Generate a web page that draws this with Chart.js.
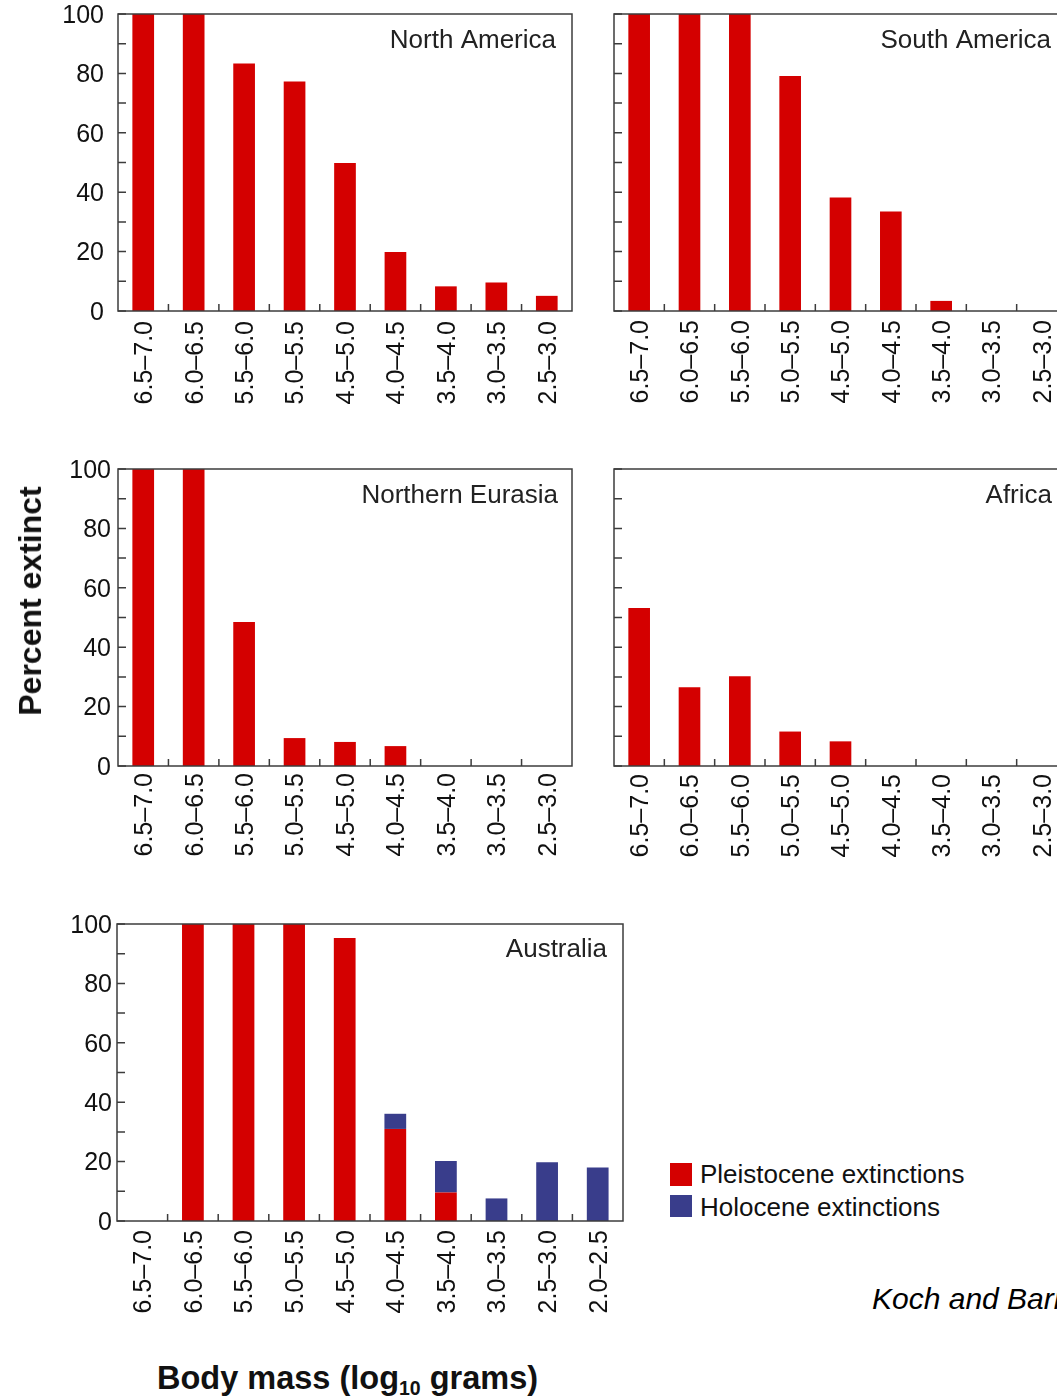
<!DOCTYPE html>
<html><head><meta charset="utf-8">
<script src="https://cdn.jsdelivr.net/npm/chart.js@4.4.0/dist/chart.umd.min.js"></script>
<style>
html,body{margin:0;padding:0;width:1057px;height:1398px;overflow:hidden;background:#fff;font-family:"Liberation Sans",Arial,Helvetica,sans-serif;}
canvas{position:absolute;}
.txt{position:absolute;white-space:nowrap;line-height:1;color:#111;}
#ylab{left:30px;top:601px;transform:translate(-50%,-50%) rotate(-90deg);font-weight:bold;font-size:32px;}
#xlab{left:157px;top:1362px;font-weight:bold;font-size:32.5px;}
#xlab span{font-size:0.6em;position:relative;top:0.32em;}
.sw{position:absolute;width:22px;height:23px;}
.lg{font-size:26px;}
#cite{left:872px;top:1284px;font-size:30px;font-style:italic;color:#000;}
</style>
</head><body>
<canvas id="cNA" width="600" height="435" style="left:0;top:-15px"></canvas>
<canvas id="cSA" width="500" height="420" style="left:600px;top:0"></canvas>
<canvas id="cNE" width="600" height="440" style="left:0;top:440px"></canvas>
<canvas id="cAF" width="500" height="440" style="left:600px;top:440px"></canvas>
<canvas id="cAU" width="640" height="440" style="left:0;top:895px"></canvas>
<div class="txt" id="ylab">Percent extinct</div>
<div class="txt" id="xlab">Body mass (log<span>10</span> grams)</div>
<div class="sw" id="swP" style="left:670px;top:1163px"></div>
<div class="sw" id="swH" style="left:670px;top:1195px;height:22px"></div>
<div class="txt lg" id="lgP" style="left:700px;top:1161px"></div>
<div class="txt lg" id="lgH" style="left:700px;top:1194px"></div>
<div class="txt" id="cite">Koch and Barnosky (2006)</div>
<script>
// ---- data ----
const massBins = ['6.5–7.0','6.0–6.5','5.5–6.0','5.0–5.5','4.5–5.0','4.0–4.5','3.5–4.0','3.0–3.5','2.5–3.0'];
const massBinsAustralia = ['6.5–7.0','6.0–6.5','5.5–6.0','5.0–5.5','4.5–5.0','4.0–4.5','3.5–4.0','3.0–3.5','2.5–3.0','2.0–2.5'];
const northAmerica    = [100, 100, 83.3, 77.3, 49.8, 19.9, 8.3, 9.6, 5.1];
const southAmerica    = [100, 100, 100, 79.1, 38.2, 33.5, 3.4, 0, 0];
const northernEurasia = [100, 100, 48.5, 9.4, 8.1, 6.7, 0, 0, 0];
const africa          = [53.2, 26.5, 30.2, 11.6, 8.3, 0, 0, 0, 0];
const australiaPleistocene = [0, 100, 100, 100, 95.3, 31.0, 9.6, 0, 0, 0];
const australiaHolocene    = [0, 0, 0, 0, 0, 5.1, 10.6, 7.6, 19.8, 18.0];
const yTickValues = [0, 10, 20, 30, 40, 50, 60, 70, 80, 90, 100];
const seriesNames = ['Pleistocene extinctions', 'Holocene extinctions'];
const panelNames = ['North America', 'South America', 'Northern Eurasia', 'Africa', 'Australia'];

// ---- styles ----
const RED = '#d40000';
const BLUE = '#393d8b';
const AXIS = '#3c3c3c';
const FAMILY = '"Liberation Sans", Arial, Helvetica, sans-serif';

document.getElementById('swP').style.background = RED;
document.getElementById('swH').style.background = BLUE;
document.getElementById('lgP').textContent = seriesNames[0];
document.getElementById('lgH').textContent = seriesNames[1];

const frameTicks = {
  id: 'frameTicks',
  afterDatasetsDraw(chart, args, opts) {
    const {ctx, chartArea: a, scales: {x, y}} = chart;
    ctx.save();
    ctx.strokeStyle = AXIS;
    ctx.lineWidth = 1.5;
    ctx.beginPath();
    yTickValues.forEach(v => {
      const py = y.getPixelForValue(v);
      ctx.moveTo(a.left, py); ctx.lineTo(a.left + 8, py);
    });
    const n = chart.data.labels.length;
    for (let i = 1; i < n; i++) {
      const px = (x.getPixelForValue(i - 1) + x.getPixelForValue(i)) / 2;
      ctx.moveTo(px, a.bottom); ctx.lineTo(px, a.bottom - 7);
    }
    ctx.stroke();
    ctx.strokeRect(a.left, a.top, a.right - a.left, a.bottom - a.top);
    if (opts.title) {
      ctx.fillStyle = '#222';
      ctx.font = '26px ' + FAMILY;
      ctx.textAlign = 'right';
      ctx.textBaseline = 'alphabetic';
      ctx.fillText(opts.title, a.right - opts.titleRight, a.top + opts.titleBase);
    }
    ctx.restore();
  }
};

function ds(label, data, color) {
  return { label, data, backgroundColor: color, borderWidth: 0, barPercentage: 0.43, categoryPercentage: 1 };
}

function makeChart(id, labels, datasets, o) {
  return new Chart(document.getElementById(id), {
    type: 'bar',
    data: { labels, datasets },
    options: {
      responsive: false, animation: false, devicePixelRatio: 1,
      layout: { padding: { top: o.padTop, right: o.padRight, left: 0, bottom: 0 } },
      plugins: {
        legend: { display: false }, tooltip: { enabled: false },
        frameTicks: { title: o.title, titleRight: o.titleRight, titleBase: o.titleBase }
      },
      scales: {
        x: {
          stacked: true,
          grid: { display: false, drawTicks: false }, border: { display: false },
          ticks: { autoSkip: false, minRotation: 90, maxRotation: 90, padding: o.xPad, labelOffset: 2, color: '#111', font: { size: 25, family: FAMILY } },
          afterFit: s => { s.height = o.axisH; }
        },
        y: {
          stacked: true, min: 0, max: 100,
          grid: { display: false, drawTicks: false }, border: { display: false },
          ticks: { stepSize: 20, display: o.showY, padding: o.yPad, labelOffset: 2, color: '#111', font: { size: 25, family: FAMILY } },
          afterFit: s => { s.width = o.axisW; }
        }
      }
    },
    plugins: [frameTicks]
  });
}

makeChart('cNA', massBins, [ds(seriesNames[0], northAmerica, RED)],
  { padTop: 29, padRight: 28, axisW: 118, axisH: 109, xPad: 10, yPad: 14, showY: true, title: panelNames[0], titleRight: 16, titleBase: 34 });
makeChart('cSA', massBins, [ds(seriesNames[0], southAmerica, RED)],
  { padTop: 14, padRight: 33, axisW: 14, axisH: 109, xPad: 9, yPad: 8, showY: false, title: panelNames[1], titleRight: 16, titleBase: 34 });
makeChart('cNE', massBins, [ds(seriesNames[0], northernEurasia, RED)],
  { padTop: 29, padRight: 28, axisW: 118, axisH: 114, xPad: 7, yPad: 7, showY: true, title: panelNames[2], titleRight: 14, titleBase: 34 });
makeChart('cAF', massBins, [ds(seriesNames[0], africa, RED)],
  { padTop: 29, padRight: 33, axisW: 14, axisH: 114, xPad: 8, yPad: 8, showY: false, title: panelNames[3], titleRight: 15, titleBase: 34 });
makeChart('cAU', massBinsAustralia, [ds(seriesNames[0], australiaPleistocene, RED), ds(seriesNames[1], australiaHolocene, BLUE)],
  { padTop: 29, padRight: 17, axisW: 117, axisH: 114, xPad: 9, yPad: 5, showY: true, title: panelNames[4], titleRight: 16, titleBase: 33 });
</script>
</body></html>
